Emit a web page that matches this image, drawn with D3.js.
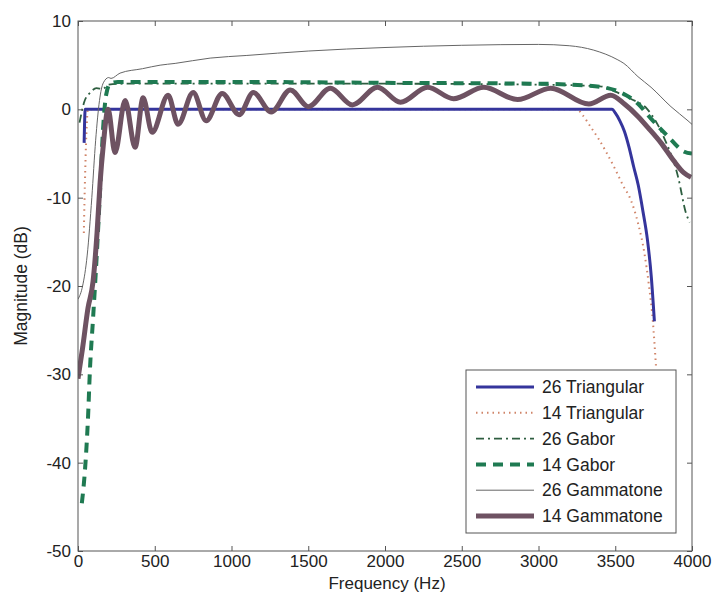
<!DOCTYPE html>
<html>
<head>
<meta charset="utf-8">
<script src="https://cdn.jsdelivr.net/npm/d3@7"></script>
<style>
  html, body { margin: 0; padding: 0; background: #fff; }
  svg { display: block; font-family: "Liberation Sans", Arial, sans-serif; }
</style>
</head>
<body>
<svg id="chart" width="714" height="595"></svg>
<script>
// Frequency responses of summed filter banks: [frequency (Hz), magnitude (dB)]
const tri26 = [[40,-3.8],[47,0],[3480,0],[3500,-0.4],[3530,-1.3],[3560,-2.5],[3590,-4.3],[3620,-6.5],
  [3650,-8.6],[3680,-11.5],[3710,-14.8],[3735,-19],[3755,-24]];
const tri14 = [[38,-14],[42,-10.5],[47,-7],[52,-4],[57,-1.8],[64,0],[3250,0],[3290,-0.7],[3340,-2.0],[3390,-3.3],
  [3440,-4.8],[3500,-6.8],[3550,-8.6],[3600,-10.2],[3650,-13],[3690,-16.3],[3720,-20],[3745,-24],[3765,-29]];
const gabor26 = [[10,-1.5],[40,0.8],[80,1.9],[120,2.4],[160,2.3],[200,2.8],[300,2.9],[1000,2.9],[2000,2.9],
  [3000,2.8],[3400,2.6],[3500,2.0],[3600,1.2],[3710,0],[3815,-3.1],[3910,-7.7],[3960,-11.7],[3985,-12.8]];
const gabor14 = [[25,-44.6],[46,-40.7],[65,-35],[78,-29.4],[98,-23.7],[124,-15.9],[144,-9.1],[163,-2.3],
  [183,1.6],[209,2.9],[260,3.1],[1000,3.1],[2000,3.0],[3000,2.9],[3300,2.7],[3450,2.4],[3550,1.8],
  [3650,0.6],[3730,-1.0],[3840,-3.0],[3950,-4.8],[4000,-5.0]];
const gamma26 = [[0,-21.5],[30,-20],[60,-16.5],[90,-10],[115,-3.5],[140,1],[165,3],[200,3.6],[215,3.5],
  [274,4.1],[420,4.6],[535,5.0],[633,5.2],[861,5.8],[1100,6.1],[1500,6.6],[2000,7.0],[2500,7.25],
  [3000,7.35],[3200,7.2],[3360,6.7],[3517,5.6],[3556,5.2],[3648,3.7],[3733,2.5],[3863,0.3],[3974,-1.3],[4000,-1.7]];
const gamma14 = [[0,-30.5],[30,-27],[65,-22.5],[98,-19.5],[124,-14],[144,-8.3],[165,-4],[196,0],
  [241,-4.9],[307,1.0],[372,-4.3],[424,1.3],[483,-2.6],[587,1.6],[652,-1.7],[750,1.9],[835,-1.3],
  [939,1.8],[1050,-0.6],[1142,1.9],[1259,-0.3],[1383,2.2],[1501,0.3],[1644,2.4],[1788,0.5],[1951,2.5],
  [2101,0.8],[2277,2.5],[2447,1.2],[2643,2.5],[2864,1.1],[3080,2.4],[3328,0.6],[3471,1.6],[3560,0.6],
  [3648,-0.8],[3720,-2.2],[3798,-3.8],[3880,-5.8],[3948,-7.2],[3994,-7.7]];

const legendLabels = ["26 Triangular","14 Triangular","26 Gabor","14 Gabor","26 Gammatone","14 Gammatone"];
const xTicks = [0,500,1000,1500,2000,2500,3000,3500,4000];
const yTicks = [-50,-40,-30,-20,-10,0,10];

const series = [
  { name: legendLabels[1], data: tri14,   color: "#d08468", width: 2,   dash: "1.5,4" },
  { name: legendLabels[0], data: tri26,   color: "#35359c", width: 3,   dash: null },
  { name: legendLabels[2], data: gabor26, color: "#2e5e40", width: 1.8, dash: "8,4,2,4" },
  { name: legendLabels[3], data: gabor14, color: "#1f7a52", width: 4,   dash: "10,7" },
  { name: legendLabels[4], data: gamma26, color: "#666666", width: 1,   dash: null },
  { name: legendLabels[5], data: gamma14, color: "#6e5262", width: 5,   dash: null }
];

const svg = d3.select("#chart");
const m = { left: 78, right: 692, top: 21, bottom: 551 };
const font = "'Liberation Sans', Arial, sans-serif";

const x = d3.scaleLinear().domain([0, 4000]).range([m.left, m.right]);
const y = d3.scaleLinear().domain([-50, 10]).range([m.bottom, m.top]);

svg.append("defs").append("clipPath").attr("id", "plotArea")
  .append("rect").attr("x", m.left).attr("y", m.top)
  .attr("width", m.right - m.left).attr("height", m.bottom - m.top);

const line = d3.line().x(d => x(d[0])).y(d => y(d[1])).curve(d3.curveMonotoneX);

const plot = svg.append("g").attr("clip-path", "url(#plotArea)");
series.forEach(s => {
  plot.append("path")
    .attr("d", line(s.data))
    .attr("fill", "none")
    .attr("stroke", s.color)
    .attr("stroke-width", s.width)
    .attr("stroke-dasharray", s.dash)
    .attr("stroke-linejoin", "round");
});

// Axes with inward ticks on all four sides
const axisColor = "#555";
function styleAxis(g) {
  g.select(".domain").remove();
  g.selectAll(".tick line").attr("stroke", axisColor);
  g.selectAll(".tick text").attr("fill", "#222").style("font-size", "17px").style("font-family", font);
}
svg.append("g").attr("transform", `translate(0,${m.bottom})`)
  .call(d3.axisBottom(x).tickValues(xTicks).tickSizeInner(-5).tickSizeOuter(0).tickPadding(4).tickFormat(d3.format("d")))
  .call(styleAxis);
svg.append("g").attr("transform", `translate(0,${m.top})`)
  .call(d3.axisTop(x).tickValues(xTicks).tickSizeInner(-5).tickSizeOuter(0).tickFormat(""))
  .call(styleAxis);
svg.append("g").attr("transform", `translate(${m.left},0)`)
  .call(d3.axisLeft(y).tickValues(yTicks).tickSizeInner(-5).tickSizeOuter(0).tickPadding(7).tickFormat(d => d < 0 ? "-" + Math.abs(d) : d))
  .call(styleAxis);
svg.append("g").attr("transform", `translate(${m.right},0)`)
  .call(d3.axisRight(y).tickValues(yTicks).tickSizeInner(-5).tickSizeOuter(0).tickFormat(""))
  .call(styleAxis);

svg.append("rect").attr("x", m.left).attr("y", m.top)
  .attr("width", m.right - m.left).attr("height", m.bottom - m.top)
  .attr("fill", "none").attr("stroke", axisColor).attr("stroke-width", 1);

// Axis titles
svg.append("text").attr("x", (m.left + m.right) / 2 + 2).attr("y", 589)
  .attr("text-anchor", "middle").attr("fill", "#222").style("font-size", "17px").style("font-family", font)
  .text("Frequency (Hz)");
svg.append("text").attr("transform", `translate(27,${(m.top + m.bottom) / 2}) rotate(-90)`)
  .attr("text-anchor", "middle").attr("fill", "#222").style("font-size", "17.5px").style("font-family", font)
  .text("Magnitude (dB)");

// Legend
const lg = { x: 466, y: 370, w: 210, h: 163 };
const legend = svg.append("g");
legend.append("rect").attr("x", lg.x).attr("y", lg.y).attr("width", lg.w).attr("height", lg.h)
  .attr("fill", "#fff").attr("stroke", axisColor).attr("stroke-width", 1);
const legendOrder = [1, 0, 2, 3, 4, 5].map(i => series[i]);
legendOrder.forEach((s, i) => {
  const cy = lg.y + 17 + i * 25.8;
  legend.append("line")
    .attr("x1", lg.x + 10).attr("x2", lg.x + 68).attr("y1", cy).attr("y2", cy)
    .attr("stroke", s.color).attr("stroke-width", s.width)
    .attr("stroke-dasharray", s.dash);
  legend.append("text").attr("x", lg.x + 76).attr("y", cy).attr("dy", "0.35em")
    .attr("fill", "#222").style("font-size", "17.5px").style("font-family", font).text(s.name);
});
</script>
</body>
</html>
